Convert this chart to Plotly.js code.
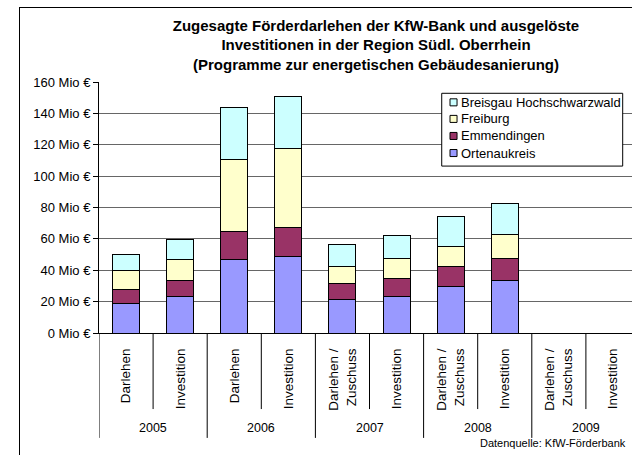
<!DOCTYPE html>
<html>
<head>
<meta charset="utf-8">
<script src="https://cdn.plot.ly/plotly-3.0.1.min.js"></script>
<style>
body { margin: 0; overflow: hidden; background: #fff; }
#root { position: absolute; left: 19px; top: 7px; width: 712px; height: 460px; border: 1px solid #000; }
</style>
</head>
<body>
<div id="root"></div>
<script>
// Kategorien (Jahr / Art)
var years = ['2005', '2005', '2006', '2006', '2007', '2007', '2008', '2008', '2009', '2009'];
var kinds = ['Darlehen', 'Investition', 'Darlehen', 'Investition',
             'Darlehen /<br>Zuschuss', 'Investition', 'Darlehen /<br>Zuschuss', 'Investition',
             'Darlehen /<br>Zuschuss', 'Investition'];

// Werte in Mio Euro, 2009 ohne Daten
var ortenau     = [19, 23, 47, 48.5, 21.5, 23.5, 29.5, 33.5, null, null];
var emmendingen = [9, 10.5, 18, 19, 10, 11, 13, 14, null, null];
var freiburg    = [12, 13.5, 45.5, 50, 11, 13, 12.5, 15, null, null];
var breisgau    = [10, 12.5, 33.5, 33, 14, 14.5, 19, 20, null, null];

var names = ['Ortenaukreis', 'Emmendingen', 'Freiburg', 'Breisgau Hochschwarzwald'];
var colors = ['#9999FF', '#993366', '#FFFFCC', '#CCFFFF'];
var series = [ortenau, emmendingen, freiburg, breisgau];

var titleLines = ['Zugesagte Förderdarlehen der KfW-Bank und ausgelöste',
                  'Investitionen in der Region Südl. Oberrhein',
                  '(Programme zur energetischen Gebäudesanierung)'];
var source = 'Datenquelle: KfW-Förderbank';

var font = 'Liberation Sans, Arial, sans-serif';

// eindeutige Kategorie-Schluessel, Beschriftung ueber ticktext
var keys = [];
for (let i = 0; i < years.length; i++) {
    keys.push(years[i] + '|' + kinds[i]);
}

var traces = [];
for (let i = 0; i < series.length; i++) {
    traces.push({
        type: 'bar',
        x: keys,
        y: series[i],
        name: names[i],
        marker: { color: colors[i], line: { color: '#000', width: 1 } },
        showlegend: false
    });
}

var shapes = [];
var annotations = [];

// Trennlinien unter der Achse: lang zwischen Jahren, kurz innerhalb
for (let b = 0; b <= keys.length; b++) {
    var yearEdge = (b === 0 || b === keys.length || years[b] !== years[b - 1]);
    shapes.push({
        type: 'line', xref: 'x', yref: 'paper',
        x0: b - 0.5, x1: b - 0.5, y0: 0, y1: yearEdge ? -0.418 : -0.303,
        line: { color: '#000', width: 1 }
    });
}

// Jahresbeschriftung in der Mitte jeder Gruppe
var start = 0;
for (let i = 1; i <= years.length; i++) {
    if (i === years.length || years[i] !== years[start]) {
        annotations.push({
            xref: 'x', yref: 'paper', x: (start + i - 1) / 2, y: -0.378,
            xanchor: 'center', yanchor: 'middle', showarrow: false,
            text: years[start], font: { family: font, size: 12.5, color: '#000' }
        });
        start = i;
    }
}

// Legende von Hand (kleine Quadrate wie im Original)
shapes.push({
    type: 'rect', xref: 'paper', yref: 'paper',
    x0: 0.6335, x1: 0.968, y0: 0.665, y1: 0.955,
    line: { color: '#000', width: 1 }, fillcolor: '#fff'
});
var legendY = [0.919, 0.853, 0.785, 0.717];
for (let i = 0; i < names.length; i++) {
    var k = names.length - 1 - i;
    shapes.push({
        type: 'rect', xref: 'paper', yref: 'paper',
        x0: 0.6488, x1: 0.6618, y0: legendY[i] - 0.014, y1: legendY[i] + 0.014,
        line: { color: '#000', width: 1 }, fillcolor: colors[k]
    });
    annotations.push({
        xref: 'paper', yref: 'paper', x: 0.666, y: legendY[i],
        xanchor: 'left', yanchor: 'middle', showarrow: false,
        text: names[k], font: { family: font, size: 13, color: '#000' }
    });
}

annotations.push({
    xref: 'paper', yref: 'paper', x: 0.978, y: -0.438,
    xanchor: 'right', yanchor: 'middle', showarrow: false,
    text: source, font: { family: font, size: 11, color: '#000' }
});

var layout = {
    width: 712,
    height: 460,
    margin: { l: 79, r: 92, t: 74, b: 135 },
    paper_bgcolor: '#fff',
    plot_bgcolor: '#fff',
    barmode: 'stack',
    bargap: 0.5,
    font: { family: font, size: 13, color: '#000' },
    title: {
        text: titleLines.join('<br>'),
        font: { family: font, size: 15, color: '#000', weight: 'bold' },
        xref: 'container', x: 0.5, xanchor: 'center',
        yref: 'container', y: 0.951, yanchor: 'top',
        pad: { t: 0 }
    },
    xaxis: {
        type: 'category',
        range: [-0.5, keys.length - 0.5],
        tickvals: keys,
        ticktext: kinds,
        tickangle: -90,
        ticks: '',
        ticklabelstandoff: 9,
        showline: true,
        linecolor: '#000',
        showgrid: false,
        tickfont: { family: font, size: 13.5, color: '#000' }
    },
    yaxis: {
        range: [0, 160],
        dtick: 20,
        ticksuffix: ' Mio €',
        ticks: 'outside',
        ticklen: 5,
        tickcolor: '#000',
        showline: true,
        linecolor: '#000',
        gridcolor: '#666',
        zeroline: false,
        tickfont: { family: font, size: 13, color: '#000' }
    },
    shapes: shapes,
    annotations: annotations
};

Plotly.newPlot('root', traces, layout, { staticPlot: true });
</script>
</body>
</html>
